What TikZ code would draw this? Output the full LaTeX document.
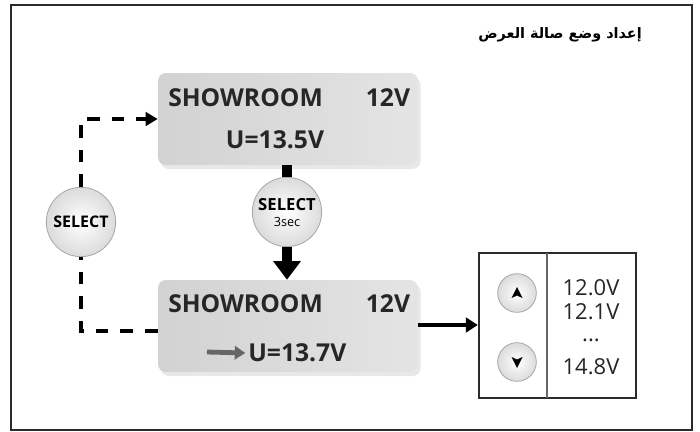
\documentclass[tikz,border=0pt]{standalone}
\usepackage{fontspec}
\setmainfont{Open Sans}
\newfontfamily\arabicfont[Script=Arabic]{DejaVu Sans}
\TeXXeTstate=1
\usetikzlibrary{arrows.meta,shadows,calc}
\definecolor{framec}{HTML}{2B2B2B}
\definecolor{lcdA}{HTML}{D2D2D2}
\definecolor{lcdB}{HTML}{E4E4E4}
\tikzset{
  lcd/.style={rounded corners=6pt, draw=none, left color=lcdA, right color=lcdB,
    drop shadow={shadow xshift=2pt, shadow yshift=-3pt, opacity=0.18, fill=gray}},
  btn/.style={circle, draw=gray!70, line width=0.6pt, inner color=white, outer color=gray!28},
  lcdtxt/.style={font=\bfseries\fontsize{18.5}{20}\selectfont, text=black!85, inner sep=0pt},
  valtxt/.style={font=\fontsize{16.5}{18}\selectfont, text=black!85, inner sep=0pt},
  dashline/.style={line width=3.5pt, dash pattern=on 9.5pt off 9pt},
  fatarrow/.style={line width=7.5pt, -{Triangle[length=14pt,width=20pt]}},
  midarrow/.style={line width=3.6pt, -{Triangle[length=9pt,width=11pt]}},
}
\begin{document}
\begin{tikzpicture}[x=0.75pt,y=-0.75pt]
\useasboundingbox (0,0) rectangle (700,432);
% outer frame
\draw[framec, line width=2.2pt] (11,5) rectangle (692,430);
% title
\node[font=\arabicfont\bfseries\fontsize{10.8}{13}\selectfont, anchor=east, inner sep=0pt] (title) at (642,35) {\beginR إعداد وضع صالة العرض\endR};
% LCD boxes
\path[lcd] (158,73) rectangle (418,165);
\node[inner sep=0pt, minimum width=195pt, minimum height=69pt] (top) at (288,119) {};
\path[lcd] (158,280) rectangle (418,372);
\node[inner sep=0pt, minimum width=195pt, minimum height=69pt] (bot) at (288,326) {};
% texts top
\node[lcdtxt, anchor=west] (t1) at (168,98) {SHOWROOM};
\node[lcdtxt] (t2) at (388,98) {12V};
\node[lcdtxt] (t3) at (275,140) {U=13.5V};
% texts bottom
\node[lcdtxt, anchor=west] (b1) at (168,304) {SHOWROOM};
\node[lcdtxt] (b2) at (388,304) {12V};
\node[lcdtxt, anchor=west] (b3) at (248,353) {U=13.7V};
\coordinate (ga) at (207,352);
\draw[gray!80!black, line width=3.6pt, -{Triangle[length=8pt,width=10pt]}] (ga) -- ([xshift=-2pt]b3.west);
% select buttons
\node[btn, minimum size=52pt, inner sep=0pt] (sel3) at (287,212) {};
\node[font=\bfseries\fontsize{12.5}{12}\selectfont, inner sep=0pt] (sel3a) at (287,205) {SELECT};
\node[font=\fontsize{9.5}{9}\selectfont, inner sep=0pt] (sel3b) at (287,222) {3sec};
\node[btn, minimum size=52pt, inner sep=0pt] (sel) at (81,222) {\bfseries\fontsize{12}{12}\selectfont SELECT};
% connectors
\draw[line width=7.5pt] (top.south -| sel3) -- (sel3.north);
\draw[fatarrow] (sel3.south) -- (bot.north -| sel3);
\coordinate (c1) at (81,119);
\coordinate (c2) at (81,331);
\draw[dashline, -{Triangle[length=9pt,width=10pt]}] (sel.north) -- (c1) -- (top.west |- c1);
\draw[dashline] (bot.west |- c2) -- (c2) -- (sel.south);
% value box
\node[draw=framec, line width=1.8pt, minimum width=117.75pt, minimum height=108.75pt, inner sep=0pt] (vbox) at (557.5,325.5) {};
\draw[gray!80!black, line width=0.9pt] (547,253) -- (547,398);
\draw[midarrow] (bot.east |- 0,325) -- (vbox.west |- 0,325);
\node[btn, minimum size=29pt, inner sep=0pt] (up) at (517,293) {};
\node[btn, minimum size=29pt, inner sep=0pt] (dn) at (517,362) {};
\fill ($(up)+(-5.5,5)$) -- ($(up)+(0,2.5)$) -- ($(up)+(5.5,5)$) -- ($(up)+(0,-6)$) -- cycle;
\fill ($(dn)+(-5.5,-5)$) -- ($(dn)+(0,-2.5)$) -- ($(dn)+(5.5,-5)$) -- ($(dn)+(0,6)$) -- cycle;
\node[valtxt] (v1) at (591,288) {12.0V};
\node[valtxt] (v2) at (591,312) {12.1V};
\node[valtxt] (v3) at (591,340) {...};
\node[valtxt] (v4) at (591,367) {14.8V};
\end{tikzpicture}
\end{document}
